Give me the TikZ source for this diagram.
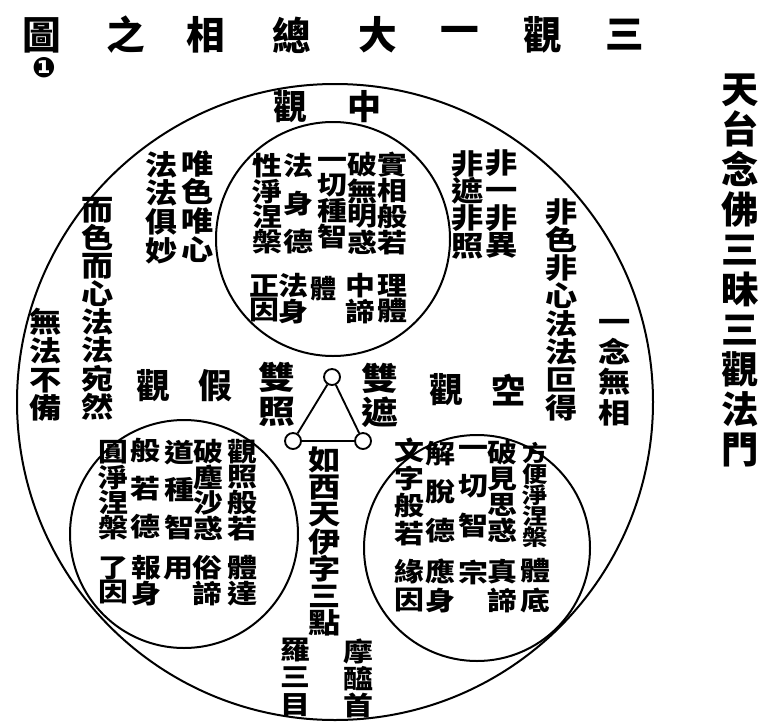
\documentclass[tikz,border=0pt]{standalone}
\usepackage{fontspec}
\newfontfamily\cjk{Noto Sans CJK TC}
\newfontfamily\cjkw{Noto Sans CJK TC}[FakeStretch=1.15]
\newfontfamily\dings{DejaVu Sans}
\begin{document}
\begin{tikzpicture}[x=0.75pt, y=-0.75pt,
    ring/.style={draw, circle, line width=1.5pt, inner sep=0pt},
    dot/.style={draw, circle, line width=1.4pt, minimum size=12pt, inner sep=0pt},
    ttl/.style={font=\cjk\bfseries\fontsize{29pt}{30pt}\selectfont, inner sep=0pt},
    lab/.style={font=\cjk\bfseries\fontsize{25.5pt}{26pt}\selectfont, inner sep=0pt},
    vcol/.style 2 args={inner sep=0pt, align=center, font=\cjkw\bfseries\fontsize{#1}{#2}\selectfont,
      execute at begin node={\vphantom{國}}, execute at end node={\vphantom{國}}},
    side/.style={vcol={21pt}{21.5pt}},
    inn/.style={vcol={19.5pt}{18.5pt}}]
  \useasboundingbox (0,0) rectangle (764,728);
  % title row, read from the right
  \foreach \c/\x [count=\i] in {圖/42,之/126,相/206,總/292,大/378,一/460,觀/543,三/625}
    {\node[ttl] (t\i) at (\x,35) {\c};}
  \node[font=\dings\bfseries\fontsize{21pt}{21pt}\selectfont, inner sep=0pt] (num) at (44,68) {❶};
  \node[font=\cjk\bfseries\fontsize{28pt}{30pt}\selectfont, inner sep=0pt, align=center,
    execute at begin node={\vphantom{國}}, execute at end node={\vphantom{國}}]
    (name) at (740,271) {天\\台\\念\\佛\\三\\昧\\三\\觀\\法\\門};
  % circles
  \node[ring, minimum size=477pt] (whole) at (335,402) {};
  \node[ring, minimum size=175.5pt] (zhong) at (333,239) {};
  \node[ring, minimum size=171pt] (jia) at (184,534) {};
  \node[ring, minimum size=169.5pt] (kong) at (477,548) {};
  % the three dots
  \node[dot] (d0) at (332,377) {};
  \node[dot] (d1) at (293,441) {};
  \node[dot] (d2) at (363,441) {};
  \draw[line width=1.4pt] (d0) -- (d1) (d0) -- (d2) (d1) -- (d2);
  % names of the three views
  \node[lab] (zl1) at (364,107) {中};
  \node[lab] (zl2) at (290,107) {觀};
  \node[lab] (jl1) at (215,386) {假};
  \node[lab] (jl2) at (153,386) {觀};
  \node[lab] (kl1) at (508,390) {空};
  \node[lab] (kl2) at (446,390) {觀};
  \node[vcol={24pt}{25.5pt}] (sz) at (277,394.5) {雙\\照};
  \node[vcol={24pt}{25.5pt}] (sj) at (380,395.5) {雙\\遮};
  % left side
  \node[side] (l1) at (198,206.5) {唯\\色\\唯\\心};
  \node[side] (l2) at (162,207.5) {法\\法\\俱\\妙};
  \node[vcol={21pt}{21.1pt}] (l3) at (98,308.5) {而\\色\\而\\心\\法\\法\\宛\\然};
  \node[side] (l4) at (46,365) {無\\法\\不\\備};
  % right side
  \node[vcol={21pt}{20.5pt}] (r1) at (502,204) {非\\一\\非\\異};
  \node[vcol={21pt}{20.5pt}] (r2) at (468,204.5) {非\\遮\\非\\照};
  \node[vcol={21pt}{21pt}] (r3) at (562,310) {非\\色\\非\\心\\法\\法\\叵\\得};
  \node[vcol={21pt}{22.7pt}] (r4) at (615,372.5) {一\\念\\無\\相};
  % middle (zhong)
  \node[inn] (z1) at (392,203.5) {實\\相\\般\\若};
  \node[inn] (z2) at (362,203.5) {破\\無\\明\\惑};
  \node[inn] (z3) at (332,203.5) {一\\切\\種\\智};
  \node[inn] (z4) at (298,203.5) {法\\[9pt]身\\[9pt]德};
  \node[inn] (z5) at (267,203.5) {性\\淨\\涅\\槃};
  \node[inn] (z6) at (392,298.5) {理\\體};
  \node[inn] (z7) at (360,298.5) {中\\諦};
  \node[inn, font=\cjk\bfseries\fontsize{19.5pt}{19.5pt}\selectfont] (z8) at (323,289) {體};
  \node[inn] (z9) at (293,298.5) {法\\身};
  \node[inn] (z10) at (264,298.5) {正\\因};
  % false (jia)
  \node[inn] (j1) at (242,490) {觀\\照\\般\\若};
  \node[inn] (j2) at (208,490) {破\\塵\\沙\\惑};
  \node[inn] (j3) at (179,490) {道\\[9pt]種\\[9pt]智};
  \node[inn] (j4) at (145,489) {般\\[9pt]若\\[9pt]德};
  \node[inn] (j5) at (113,490) {圓\\淨\\涅\\槃};
  \node[inn] (j6) at (242,580.5) {體\\達};
  \node[inn] (j7) at (207,580.5) {俗\\諦};
  \node[inn] (j8) at (178,568) {用};
  \node[inn] (j9) at (146,580.5) {報\\身};
  \node[inn] (j10) at (113,580.5) {了\\因};
  % empty (kong)
  \node[vcol={16.5pt}{15.75pt}] (k1) at (535,495) {方\\便\\淨\\涅\\槃};
  \node[inn] (k2) at (502,492) {破\\[1pt]見\\[1pt]思\\[1pt]惑};
  \node[inn] (k3) at (473,492) {一\\[10pt]切\\[10pt]智};
  \node[inn] (k4) at (440,492) {解\\[10pt]脫\\[10pt]德};
  \node[inn] (k5) at (409,492) {文\\[1pt]字\\[1pt]般\\[1pt]若};
  \node[inn] (k6) at (535,586) {體\\[2.5pt]底};
  \node[inn] (k7) at (502,586) {真\\[2.5pt]諦};
  \node[inn] (k8) at (473,573) {宗};
  \node[inn] (k9) at (440,586) {應\\[2.5pt]身};
  \node[inn] (k10) at (409,586) {緣\\[2.5pt]因};
  % bottom
  \node[vcol={21pt}{20.4pt}] (yi) at (325,541.5) {如\\西\\天\\伊\\字\\三\\點};
  \node[vcol={19.5pt}{19.9pt}] (m1) at (358,678.5) {摩\\醯\\首};
  \node[vcol={19.5pt}{20.6pt}] (m2) at (295,677.5) {羅\\三\\目};
\end{tikzpicture}
\end{document}
